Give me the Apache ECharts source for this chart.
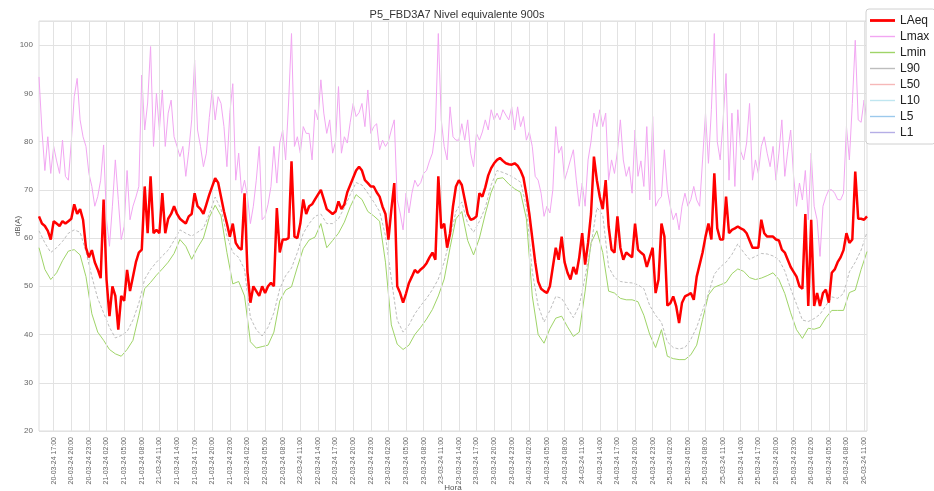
<!DOCTYPE html>
<html>
<head>
<meta charset="utf-8">
<title>P5_FBD3A7 Nivel equivalente 900s</title>
<script src="https://cdn.jsdelivr.net/npm/echarts@6/dist/echarts.min.js"></script>
<style>
  html, body { margin: 0; padding: 0; background: #fff; }
  #chart { width: 934px; height: 491px; }
</style>
</head>
<body>
<div id="chart"></div>
<script>
// Time axis: hours relative to 20-03-24 17:00
const startHour = -2.5;
const endHour = 138.5;

// Tick labels every 3 hours, starting at hour 0
const tickLabels = [
  '20-03-24 17:00','20-03-24 20:00','20-03-24 23:00',
  '21-03-24 02:00','21-03-24 05:00','21-03-24 08:00','21-03-24 11:00','21-03-24 14:00','21-03-24 17:00','21-03-24 20:00','21-03-24 23:00',
  '22-03-24 02:00','22-03-24 05:00','22-03-24 08:00','22-03-24 11:00','22-03-24 14:00','22-03-24 17:00','22-03-24 20:00','22-03-24 23:00',
  '23-03-24 02:00','23-03-24 05:00','23-03-24 08:00','23-03-24 11:00','23-03-24 14:00','23-03-24 17:00','23-03-24 20:00','23-03-24 23:00',
  '24-03-24 02:00','24-03-24 05:00','24-03-24 08:00','24-03-24 11:00','24-03-24 14:00','24-03-24 17:00','24-03-24 20:00','24-03-24 23:00',
  '25-03-24 02:00','25-03-24 05:00','25-03-24 08:00','25-03-24 11:00','25-03-24 14:00','25-03-24 17:00','25-03-24 20:00','25-03-24 23:00',
  '26-03-24 02:00','26-03-24 05:00','26-03-24 08:00','26-03-24 11:00'
];
const tickHours = tickLabels.map((_, k) => k * 3);

// LAeq, one value every 30 min from startHour
const laeq = [
  64.5, 63, 62.5, 61.5, 59.7, 63.5, 63, 62.5, 63.5, 63,
  63.5, 64, 67, 65, 66, 63.8, 58, 56, 57.5, 55,
  53.5, 51.7, 68, 51.4, 43.8, 50, 48, 41, 48, 47,
  53.4, 49, 52, 55, 57, 57.6, 70.7, 61, 72.8, 61,
  61.7, 61, 69.3, 61, 64, 65, 66.6, 65, 64, 63.5,
  63, 64.5, 65, 69.3, 66.6, 66, 65, 67, 69, 70.7,
  72.4, 71.5, 68.5, 65.5, 63, 60.3, 63, 59, 58, 57.6,
  69.3, 53, 46.6, 50, 49, 48, 50, 48.6, 50, 50.7,
  50, 66.2, 57, 59.7, 59.7, 60, 75.9, 60.3, 60, 63,
  68, 65, 66.6, 67, 68, 69, 70, 68, 66, 65.5,
  65, 65.5, 67.6, 66, 67, 69.5, 71, 72.5, 74, 74.8,
  74, 72, 71.4, 70.7, 70.7, 69.5, 68.6, 66.5, 65, 59.7,
  65.9, 71.4, 50, 48.6, 46.6, 48.5, 50.7, 52, 53.4, 52.8,
  53.5, 54, 54.8, 56, 57, 55.5, 72.8, 62, 63, 58,
  61, 66.6, 70.7, 72, 71, 68, 65, 63.8, 64, 64.5,
  69.3, 68.6, 70.5, 73, 74.5, 75.5, 76.2, 76.6, 76, 75.5,
  75.3, 75.2, 75.5, 75, 74, 72.5, 69, 65, 60, 55,
  51, 49.5, 49, 48.6, 50, 54, 58, 55.5, 60.3, 55,
  52.8, 51.4, 54, 52.5, 56, 61, 54.5, 59, 65, 76.9,
  72, 68.5, 66, 72, 62.4, 57.6, 57, 64.5, 58, 55.5,
  57, 56.5, 56, 63, 57.6, 57, 56.5, 54, 56, 58,
  48.6, 51.4, 63, 60.3, 46, 46.5, 47.9, 45.9, 42.4, 46.6,
  47.9, 48.2, 48.6, 47.2, 52, 54.5, 57, 60.3, 63, 59.7,
  73.4, 62, 59.7, 59.7, 68.6, 61, 61.7, 62, 62.4, 62,
  61.7, 61, 59.5, 58, 58, 58, 63.8, 61, 60.3, 60.3,
  60.3, 59.7, 59.5, 57.6, 57, 55.5, 54, 53, 52, 50,
  49.5, 65, 45.9, 63.8, 45.9, 48.6, 45.9, 48.6, 49.3, 46.6,
  52.8, 53.5, 55, 56, 57.5, 61, 59, 59.7, 73.8, 64,
  64, 63.8, 64.5
];

// Lmax, one value every 30 min from startHour
const lmax = [
  93.4, 82.4, 74, 81, 73.4, 79, 76, 73.4, 80.3, 72.8,
  72, 80, 89.3, 93.1, 84.5, 81, 79, 73.4, 70.7, 66.6,
  68.6, 72, 79.3, 63.8, 58.3, 66.6, 76.2, 68, 59.7, 62.4,
  74, 63.8, 66.6, 68.5, 70.7, 93.8, 82.4, 88, 99.7, 79,
  90, 82.4, 90.7, 79, 85.9, 88.6, 81, 79, 76.9, 79,
  72.8, 78, 84.5, 96.9, 82.4, 79, 74.8, 77.6, 85, 90.7,
  84.5, 89.3, 87.9, 83.1, 74.8, 86, 92, 72, 77.6, 69.3,
  72, 68.6, 63, 66.6, 72, 79, 63.8, 64.5, 67, 70.7,
  79, 71.4, 79.7, 82.4, 76.2, 88, 102.4, 79, 81, 77.6,
  83.1, 81.7, 81.7, 76.2, 86.6, 84.5, 92.8, 85.9, 81.7, 84.5,
  77.6, 80, 91.4, 77.6, 81, 79.7, 84, 87.9, 85.2, 86,
  87.9, 83.1, 90.7, 81.7, 83.1, 83.7, 78.3, 80.3, 79, 80,
  82.4, 84.5, 68, 65.2, 61.7, 69.3, 65.2, 69.3, 72, 70.7,
  71.5, 73.4, 74, 76, 77.6, 82.4, 102.4, 84.5, 79, 76.2,
  87.2, 81, 80.3, 80.3, 83.7, 80.3, 84.5, 77.6, 74.8, 81.7,
  80.3, 82, 84.5, 82.4, 86.6, 84.5, 85.9, 84.5, 86.6, 85.5,
  84.5, 87.2, 82.4, 87.2, 83.1, 85.2, 80.3, 82, 79, 72.8,
  72, 69.3, 64.5, 66.6, 65.2, 70, 83.1, 77.6, 79, 72,
  74, 76.2, 78.3, 72, 66.6, 71.4, 66.6, 76.2, 80, 85.9,
  83.1, 86.6, 83.1, 85.9, 72, 76.2, 73.4, 78, 84.5, 76.2,
  72.8, 74.8, 69.3, 82.4, 72.8, 76, 70.7, 83.1, 67.9, 85.2,
  66.6, 67.9, 68.6, 78.3, 70, 66.6, 63.8, 65.2, 61.7, 66.6,
  69.3, 66.6, 68, 70.7, 67.9, 66.6, 76.2, 85.9, 75.5, 86.6,
  102.4, 80, 76.2, 84.5, 94.1, 72, 85.9, 70.7, 86.6, 78,
  76.2, 79.7, 87.9, 72, 76.2, 73.4, 79, 81, 77.6, 74.8,
  79, 72, 77.6, 84.5, 72.8, 78, 82.4, 72.8, 66.6, 71.4,
  67.9, 74, 63.8, 77.6, 66.6, 63.8, 56.2, 66.6, 68.6, 70,
  70, 69.3, 68, 67.9, 69.3, 83.1, 76.2, 87.9, 101, 84.5,
  84, 88.6, 84.5
];

// Lmin, one value every hour from startHour
const lmin = [
  58, 53.5, 51.4, 52.8, 55.3, 57.3, 57.6, 56.5, 52, 44.3,
  40.5, 38.8, 36.9, 36, 35.5, 36.9, 38.8, 44, 49.5, 50.8,
  52.3, 53.6, 55, 56.8, 59.7, 58.3, 55.6, 58, 60, 64.3,
  66.8, 64.6, 57, 50.5, 51, 48, 38.5, 37.2, 37.5, 37.8,
  40.5, 47, 49.2, 49.9, 54, 57.8, 59.6, 60.2, 63, 58,
  59.5, 61, 63.3, 66.5, 69, 68, 65.5, 64.6, 63.5, 55,
  42, 38, 36.9, 37.8, 40, 41.5, 43.2, 45.2, 48, 51.5,
  58, 64, 65.5, 59.5, 56.5, 60, 65, 69.5, 72.3, 72.5,
  71.2, 70.2, 69.5, 64, 48, 40, 38.2, 41.2, 43.4, 43.8,
  41.6, 39.6, 40.5, 49, 59, 61.5, 57, 49, 48.6, 47.5,
  47.2, 47.2, 46.8, 44, 40, 37.3, 41, 35.5, 35, 34.8,
  34.8, 35.8, 37.8, 43.1, 48.2, 49.8, 50.3, 50.8, 52.6, 53.6,
  53.1, 51.8, 51.4, 51.7, 52.2, 52.8, 51.4, 48.5, 44.5, 41,
  39.2, 41.3, 41.1, 41.5, 43.5, 45, 45, 45, 48.7, 49.2,
  53.5, 57.2
];

// L90, one value every hour from startHour
const l90 = [
  61.5, 59, 57, 58, 59.3, 61, 61.7, 61.2, 57.2, 52,
  47.5, 44.5, 41.5, 39.3, 39.8, 40.6, 43, 46.5, 51.5, 53.5,
  55, 56.3, 57.5, 59.5, 61.7, 61, 60.4, 61.2, 62, 65,
  68.5, 66, 60.5, 57, 56, 53.5, 43.5, 41, 39.7, 41.5,
  44.5, 49.5, 52.2, 53.8, 57, 61, 63, 64.5, 65, 63,
  63, 64, 66.3, 69, 71.5, 71, 69.3, 67.5, 65.5, 60.5,
  51.5, 43, 40.5, 42, 44.3, 46, 47.5, 49.3, 51.5, 55,
  60, 65.5, 67.5, 63, 61.2, 63.5, 66.3, 71, 74, 73.6,
  73.1, 72.4, 71.6, 66.5, 53, 46, 42.6, 45, 47.9, 47.5,
  45.5, 43.5, 46, 52, 58.5, 66.3, 64.8, 54, 51.8, 51,
  50.8, 50.7, 50.3, 49.5, 46, 44, 42.5, 38.5, 37.3, 37,
  37.3, 39, 41.5, 45, 48.5, 52.5, 54, 55, 56.6, 58.8,
  57, 55.6, 56.2, 56.8, 56.7, 56.3, 55.5, 53.2, 49.5, 46.3,
  43, 42.7, 43.3, 44.2, 46, 47.8, 47.5, 48.5, 53, 55,
  57.5, 61.2
];

// Percentile series listed in the legend without plotted samples
const l50 = [];
const l10 = [];
const l5 = [];
const l1 = [];

function toPoints(values, stepHours) {
  return values.map((v, i) => [startHour + i * stepHours, v]);
}

function lineSeries(name, data, color, width, extra) {
  return Object.assign({
    name: name,
    type: 'line',
    data: data,
    showSymbol: false,
    symbol: 'none',
    smooth: false,
    animation: false,
    itemStyle: { color: color },
    lineStyle: { color: color, width: width }
  }, extra || {});
}

// Legend swatches: a horizontal bar inside a 25x10 box
const thickIcon = 'path://M0,0M25,10M0,3.6h25v2.8h-25z';
const thinIcon = 'path://M0,0M25,10M0,4.3h25v1.4h-25z';

const legendNames = ['LAeq', 'Lmax', 'Lmin', 'L90', 'L50', 'L10', 'L5', 'L1'];

const chart = echarts.init(document.getElementById('chart'), null, { renderer: 'canvas' });

chart.setOption({
  backgroundColor: '#ffffff',
  animation: false,
  textStyle: { fontFamily: 'Liberation Sans, Arial, sans-serif' },
  title: {
    text: 'P5_FBD3A7 Nivel equivalente 900s',
    left: 452,
    top: 4,
    textAlign: 'center',
    textStyle: { fontSize: 11, fontWeight: 'normal', color: '#333' }
  },
  legend: {
    orient: 'vertical',
    left: 866,
    top: 9,
    itemWidth: 25,
    itemHeight: 10,
    itemGap: 3,
    padding: [5, 6, 5, 4],
    backgroundColor: '#ffffff',
    borderColor: '#d0d0d0',
    borderWidth: 1,
    borderRadius: 3,
    textStyle: { fontSize: 12, color: '#222', lineHeight: 13 },
    data: legendNames.map((n, i) => ({ name: n, icon: i === 0 ? thickIcon : thinIcon }))
  },
  grid: {
    left: 39,
    right: 67,
    top: 21,
    bottom: 60,
    outerBoundsMode: 'none',
    containLabel: false,
    show: true,
    borderColor: '#dddddd',
    borderWidth: 1
  },
  xAxis: {
    type: 'value',
    min: startHour,
    max: endHour,
    name: 'Hora',
    nameLocation: 'middle',
    nameGap: 53,
    nameMoveOverlap: false,
    nameTextStyle: { fontSize: 8, color: '#555' },
    axisLine: { show: false },
    axisTick: { show: false, customValues: tickHours },
    axisLabel: {
      customValues: tickHours,
      rotate: 90,
      fontSize: 7,
      color: '#666',
      margin: 6,
      formatter: function (v) {
        const k = Math.round(v / 3);
        return tickLabels[k] || '';
      }
    },
    splitLine: { show: false }
  },
  yAxis: {
    type: 'value',
    min: 20,
    max: 105,
    interval: 10,
    name: 'dB(A)',
    nameLocation: 'middle',
    nameGap: 17,
    nameMoveOverlap: false,
    nameTextStyle: { fontSize: 8, color: '#555' },
    axisLine: { show: false },
    axisTick: { show: false },
    axisLabel: { fontSize: 8, color: '#666', margin: 6, showMaxLabel: false },
    splitLine: { show: true, lineStyle: { color: '#e2e2e2', width: 1 } }
  },
  series: [
    lineSeries('LAeq', toPoints(laeq, 0.5), '#ff0000', 2.5, { z: 6 }),
    lineSeries('Lmax', toPoints(lmax, 0.5), '#f2a6f2', 1, { z: 3 }),
    lineSeries('Lmin', toPoints(lmin, 1), '#9fd468', 1, { z: 4 }),
    lineSeries('L90', toPoints(l90, 1), '#bdbdbd', 1, { z: 4, lineStyle: { color: '#bdbdbd', width: 1, type: [3, 2] } }),
    lineSeries('L50', l50, '#f6b8b8', 1),
    lineSeries('L10', l10, '#bfe6f0', 1),
    lineSeries('L5', l5, '#9cc9ec', 1),
    lineSeries('L1', l1, '#b5aee6', 1),
    // vertical grid lines at every 3-hour tick
    {
      name: 'hourGrid',
      type: 'line',
      data: [],
      z: 1,
      silent: true,
      animation: false,
      markLine: {
        silent: true,
        animation: false,
        symbol: ['none', 'none'],
        label: { show: false },
        lineStyle: { color: '#e2e2e2', width: 1, type: 'solid' },
        data: tickHours.map(h => ({ xAxis: h }))
      }
    }
  ]
});
</script>
</body>
</html>
